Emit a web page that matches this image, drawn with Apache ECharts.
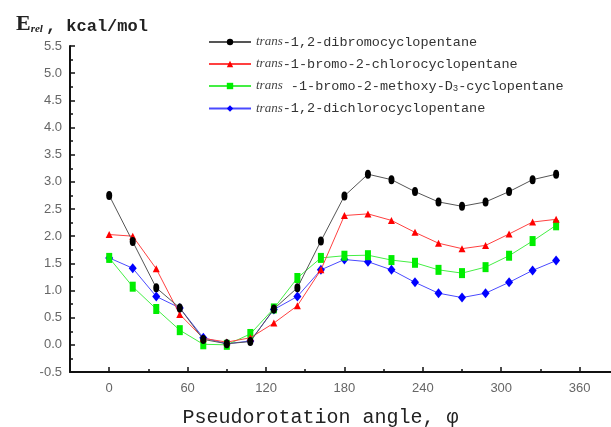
<!DOCTYPE html>
<html><head><meta charset="utf-8">
<script src="https://cdn.jsdelivr.net/npm/echarts@6/dist/echarts.min.js"></script>
<style>html,body{margin:0;padding:0;background:#fff}#c{width:611px;height:427px}</style>
</head><body><div id="c"></div>
<script>
const angles = [0,18,36,54,72,90,108,126,144,162,180,198,216,234,252,270,288,306,324,342];
const dibromo  = [2.75,1.90,1.05,0.68,0.10,0.02,0.06,0.66,1.05,1.91,2.74,3.14,3.04,2.82,2.63,2.55,2.63,2.82,3.04,3.14];
const bromoChloro = [2.03,2.00,1.40,0.56,0.12,0.05,0.13,0.40,0.72,1.38,2.38,2.41,2.29,2.07,1.87,1.77,1.83,2.04,2.26,2.31];
const methoxy  = [1.60,1.07,0.66,0.27,0.01,0.00,0.20,0.67,1.23,1.60,1.64,1.65,1.56,1.51,1.38,1.32,1.43,1.64,1.91,2.20];
const dichloro = [1.60,1.41,0.89,0.68,0.13,0.02,0.07,0.65,0.89,1.38,1.57,1.53,1.38,1.15,0.95,0.87,0.95,1.15,1.37,1.55];
const names = ['dibromo','bromochloro','methoxy','dichloro'];
const legendText = {
  dibromo: '{i|trans}{n|-1,2-dibromocyclopentane}',
  bromochloro: '{i|trans}{n|-1-bromo-2-chlorocyclopentane}',
  methoxy: '{i|trans}{n| -1-bromo-2-methoxy-D}{sub|3}{n|-cyclopentane}',
  dichloro: '{i|trans}{n|-1,2-dichlorocyclopentane}'
};
const xMajor = [0,60,120,180,240,300,360];
const xMinor = [30,90,150,210,270,330];

function pts(v){ return angles.map((a,i)=>[a,v[i]]); }
const chart = echarts.init(document.getElementById('c'));
const gb = {containLabel:false, outerBoundsMode:'none', show:false};
const X = {type:'value', min:-30, max:384, interval:30};
const Y = {type:'value', min:-0.5, max:5.5, interval:0.5};
const tickStyle = {color:'#111', width:1.5};
chart.setOption({
  animation:false,
  title:{
    left:11, top:6,
    text:'{E|E}{s|rel}{t|, kcal/mol}',
    textStyle:{rich:{
      E:{fontFamily:'Liberation Serif',fontSize:22,color:'#222',verticalAlign:'bottom',lineHeight:24},
      s:{fontFamily:'Liberation Serif',fontStyle:'italic',fontSize:11,color:'#222',verticalAlign:'bottom',lineHeight:14,padding:[0,3,0,0]},
      t:{fontFamily:'Liberation Mono',fontWeight:'bold',fontSize:17,color:'#222',verticalAlign:'bottom',lineHeight:22}
    }}
  },
  legend:{
    left:203, top:30, orient:'vertical', itemGap:8, itemWidth:42, itemHeight:8,
    data:names,
    formatter:(n)=>legendText[n],
    textStyle:{rich:{
      i:{fontFamily:'Liberation Serif',fontStyle:'italic',fontSize:13,color:'#444'},
      n:{fontFamily:'Liberation Mono',fontSize:13.5,color:'#333'},
      sub:{fontFamily:'Liberation Mono',fontSize:9,color:'#333',verticalAlign:'bottom',padding:[6,0,0,0]}
    }}
  },
  grid:[
    Object.assign({left:70, top:46, right:0, bottom:55}, gb),
    Object.assign({left:70, top:372, right:0, bottom:0}, gb),
    Object.assign({left:70, top:372, right:0, bottom:0}, gb),
    Object.assign({left:0, top:46, right:541, bottom:55}, gb)
  ],
  xAxis:[
    Object.assign({}, X, {gridIndex:0,
      name:'Pseudorotation angle, \u03c6', nameLocation:'middle', nameGap:36,
      nameTextStyle:{fontFamily:'Liberation Mono',fontSize:20,color:'#222',padding:[0,40,0,0]},
      axisLine:{show:true,onZero:false,lineStyle:{color:'#111',width:2}},
      axisTick:{show:false},
      axisLabel:{color:'#666',fontFamily:'Liberation Sans',fontSize:13,margin:10,
        formatter:(v)=> (v%60===0 && v>=0 && v<=360) ? String(v) : ''},
      splitLine:{show:false}}),
    Object.assign({}, X, {gridIndex:1, position:'top',
      axisLine:{show:false,onZero:false},
      axisTick:{show:true,inside:false,length:5,customValues:xMajor,lineStyle:tickStyle},
      axisLabel:{show:false}, splitLine:{show:false}}),
    Object.assign({}, X, {gridIndex:2, position:'top',
      axisLine:{show:false,onZero:false},
      axisTick:{show:true,inside:false,length:3,customValues:xMinor,lineStyle:tickStyle},
      axisLabel:{show:false}, splitLine:{show:false}}),
    Object.assign({}, X, {gridIndex:3, show:false})
  ],
  yAxis:[
    Object.assign({}, Y, {gridIndex:0,
      axisLine:{show:true,onZero:false,lineStyle:{color:'#111',width:2}},
      axisTick:{show:false},
      axisLabel:{color:'#666',fontFamily:'Liberation Sans',fontSize:13,margin:8,formatter:(v)=>v.toFixed(1)},
      splitLine:{show:false}}),
    Object.assign({}, Y, {gridIndex:1, show:false}),
    Object.assign({}, Y, {gridIndex:2, show:false}),
    Object.assign({}, Y, {gridIndex:3, position:'right',
      axisLine:{show:false,onZero:false},
      axisTick:{show:true,inside:false,length:5,lineStyle:tickStyle},
      minorTick:{show:true,splitNumber:2,length:3,lineStyle:tickStyle},
      axisLabel:{show:false}, splitLine:{show:false}})
  ],
  series:[
    {name:'dichloro',type:'line',data:pts(dichloro),symbol:'diamond',symbolSize:[8,10],
     itemStyle:{color:'#0000ff'},lineStyle:{color:'#4a4aff',width:1},z:2},
    {name:'methoxy',type:'line',data:pts(methoxy),symbol:'rect',symbolSize:[6,10],
     itemStyle:{color:'#00ee00'},lineStyle:{color:'#44ee44',width:1},z:3},
    {name:'bromochloro',type:'line',data:pts(bromoChloro),symbol:'triangle',symbolSize:[7,7],
     itemStyle:{color:'#ff0000'},lineStyle:{color:'#ff4040',width:1},z:4},
    {name:'dibromo',type:'line',data:pts(dibromo),symbol:'circle',symbolSize:[6,9],
     itemStyle:{color:'#000000'},lineStyle:{color:'#555555',width:1},z:5}
  ]
});
</script></body></html>
